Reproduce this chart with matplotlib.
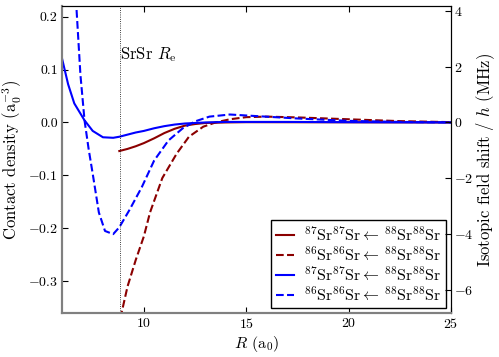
import matplotlib
matplotlib.use('Agg')
import matplotlib.pyplot as plt
import numpy as np

plt.rcParams['font.family'] = 'serif'
plt.rcParams['font.serif'] = ['cmr10']
plt.rcParams['mathtext.fontset'] = 'cm'
plt.rcParams['axes.formatter.use_mathtext'] = True
plt.rcParams['axes.unicode_minus'] = True

# contact density curves (a0^-3) vs R (a0)
R_87_blue = [6.0, 6.3, 6.6, 7.1, 7.5, 8.0, 8.5, 8.8, 9.2, 9.6, 10.0, 10.5, 11.0, 11.5, 12.0, 13.0, 14.0, 15.0, 17.0, 20.0, 25.0]
y_87_blue = [0.121, 0.072, 0.036, 0.004, -0.016, -0.028, -0.029, -0.027, -0.023, -0.019, -0.016, -0.011, -0.007, -0.004, -0.002, 0.0, 0.001, 0.001, 0.001, 0.0005, 0.0]

R_86_blue = [6.6, 6.7, 6.9, 7.1, 7.3, 7.5, 7.8, 8.1, 8.5, 8.8, 9.3, 9.9, 10.5, 11.2, 11.9, 12.5, 13.2, 14.2, 15.5, 17.5, 20.0, 22.5, 25.0]
y_86_blue = [0.29, 0.22, 0.09, 0.004, -0.05, -0.097, -0.17, -0.205, -0.211, -0.198, -0.165, -0.122, -0.072, -0.034, -0.011, 0.002, 0.011, 0.015, 0.012, 0.0075, 0.003, 0.001, 0.0]

R_87_red = [8.8, 9.2, 9.6, 10.0, 10.5, 11.0, 11.5, 12.0, 12.5, 13.0, 14.0, 15.0, 20.0, 25.0]
y_87_red = [-0.054, -0.050, -0.045, -0.039, -0.030, -0.020, -0.012, -0.006, -0.003, -0.001, 0.0, 0.0005, 0.0003, 0.0]

R_86_red = [8.85, 9.2, 9.6, 10.0, 10.3, 10.9, 11.6, 12.2, 12.9, 13.5, 14.2, 15.0, 16.0, 17.5, 20.0, 22.5, 25.0]
y_86_red = [-0.37, -0.31, -0.26, -0.215, -0.17, -0.105, -0.059, -0.027, -0.008, 0.0, 0.006, 0.010, 0.011, 0.0095, 0.006, 0.0025, 0.0006]

R_e = 8.81
shift_factor = 19.0   # MHz per a0^-3

labels = [r'$^{87}\mathrm{Sr}^{87}\mathrm{Sr}\leftarrow\,^{88}\mathrm{Sr}^{88}\mathrm{Sr}$',
          r'$^{86}\mathrm{Sr}^{86}\mathrm{Sr}\leftarrow\,^{88}\mathrm{Sr}^{88}\mathrm{Sr}$',
          r'$^{87}\mathrm{Sr}^{87}\mathrm{Sr}\leftarrow\,^{88}\mathrm{Sr}^{88}\mathrm{Sr}$',
          r'$^{86}\mathrm{Sr}^{86}\mathrm{Sr}\leftarrow\,^{88}\mathrm{Sr}^{88}\mathrm{Sr}$']

red = '#8b0000'
blue = '#0000ff'

fig = plt.figure(figsize=(4.99, 3.57), dpi=100)
ax = fig.add_axes([62/499, 1-313/357, (451-62)/499, (313-6)/357])

ax.plot(R_87_red, y_87_red, color=red, lw=1.5, label=labels[0])
ax.plot(R_86_red, y_86_red, color=red, lw=1.5, ls='--', label=labels[1])
ax.plot(R_87_blue, y_87_blue, color=blue, lw=1.5, label=labels[2])
ax.plot(R_86_blue, y_86_blue, color=blue, lw=1.5, ls='--', label=labels[3])
ax.axvline(R_e, color='k', lw=0.6, ls=':')
ax.text(R_e, 0.128, r'SrSr $R_\mathrm{e}$', fontsize=12, va='center', ha='left')

ax.set_xlim(6, 25)
ax.set_ylim(-0.36, 0.22)
ax.set_xticks([10, 15, 20, 25])
ax.set_yticks([-0.3, -0.2, -0.1, 0.0, 0.1, 0.2])
ax.set_yticklabels([r'$-0.3$', r'$-0.2$', r'$-0.1$', '0.0', '0.1', '0.2'])
ax.tick_params(direction='in', top=True, labelsize=10, length=4, pad=3)
ax.set_xlabel(r'$R$ (a$_0$)', fontsize=11.5, labelpad=2)
ax.set_ylabel(r'Contact density (a$_0^{-3}$)', fontsize=12, labelpad=3)

ax2 = ax.twinx()
ax2.set_ylim(-0.36*shift_factor, 0.22*shift_factor)
ax2.set_yticks([-6, -4, -2, 0, 2, 4])
ax2.tick_params(direction='in', labelsize=10, length=4, pad=2)
ax2.set_ylabel(r'Isotopic field shift / $h$ (MHz)', fontsize=12, labelpad=1)

for a in (ax, ax2):
    a.spines['left'].set_color('#808080')
    a.spines['bottom'].set_color('#808080')
    a.spines['left'].set_linewidth(1.5)
    a.spines['bottom'].set_linewidth(1.5)

leg = ax.legend(loc='lower right', fontsize=11.5, fancybox=False, framealpha=1,
                edgecolor='k', handlelength=1.15, handletextpad=0.6, borderpad=0.3,
                borderaxespad=0.3, labelspacing=0.1)
leg.get_frame().set_linewidth(1.0)

fig.savefig('out.png', dpi=100)
